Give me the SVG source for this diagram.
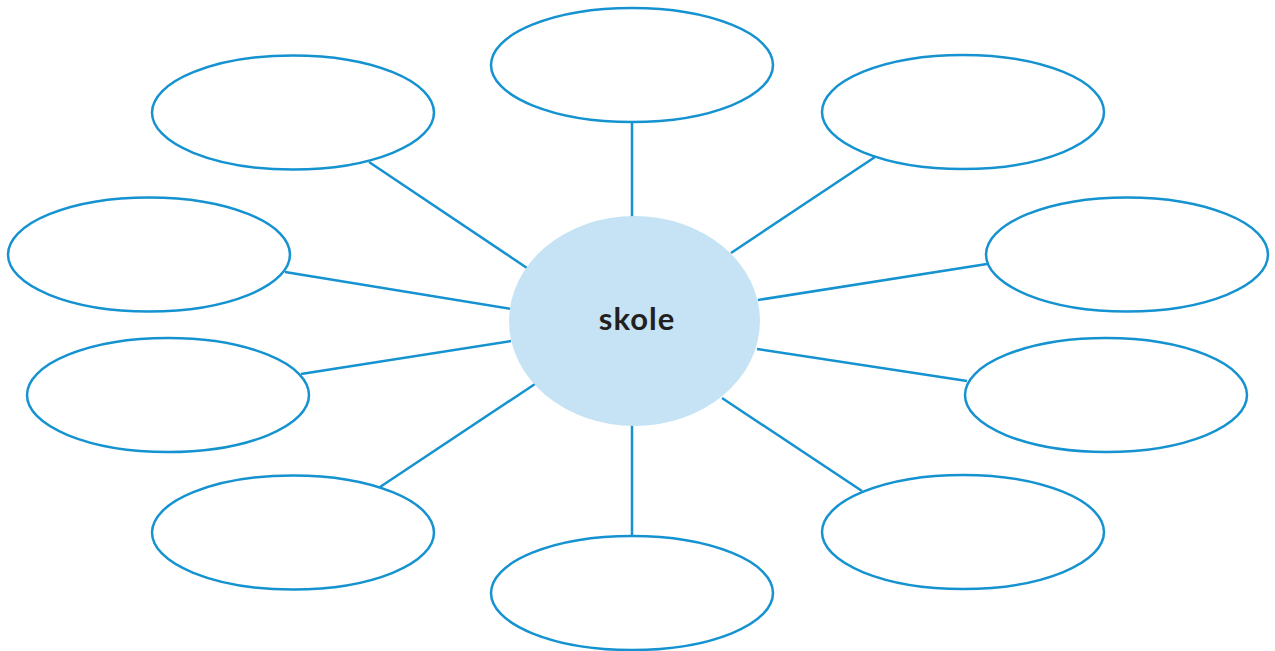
<svg xmlns="http://www.w3.org/2000/svg" width="1275" height="651" viewBox="0 0 1275 651">
<style>
.o{fill:#ffffff;stroke:#1592d0;stroke-width:2.5}
.c line{stroke:#1592d0;stroke-width:2.5}
.t{font-family:Lato,"Noto Sans",sans-serif;font-weight:bold;font-size:31px;letter-spacing:1px;fill:#231f20;text-anchor:middle}
</style>
<rect width="1275" height="651" fill="#ffffff"/>
<g id="connectors" class="c">
<line x1="632" y1="122" x2="632" y2="217"/>
<line x1="369" y1="162" x2="527" y2="268"/>
<line x1="875" y1="157" x2="731" y2="253"/>
<line x1="285" y1="272" x2="511" y2="309"/>
<line x1="987" y1="264" x2="758" y2="300"/>
<line x1="301" y1="374" x2="511" y2="341"/>
<line x1="967" y1="381" x2="757" y2="349"/>
<line x1="380" y1="487" x2="535" y2="384"/>
<line x1="862" y1="491" x2="722" y2="398"/>
<line x1="632" y1="425" x2="632" y2="536"/>
</g>
<g id="center"><ellipse cx="634.5" cy="321" rx="125.5" ry="105" fill="#c5e3f4"/><text class="t" x="637" y="330">skole</text></g>
<g id="n-top"><ellipse class="o" cx="632" cy="65" rx="141" ry="57"/></g>
<g id="n-tl"><ellipse class="o" cx="293" cy="112.5" rx="141" ry="57"/></g>
<g id="n-tr"><ellipse class="o" cx="963" cy="112" rx="141" ry="57"/></g>
<g id="n-lu"><ellipse class="o" cx="149" cy="254.5" rx="141" ry="57"/></g>
<g id="n-ru"><ellipse class="o" cx="1127" cy="254.5" rx="141" ry="57"/></g>
<g id="n-ll"><ellipse class="o" cx="168" cy="395" rx="141" ry="57"/></g>
<g id="n-rl"><ellipse class="o" cx="1106" cy="395" rx="141" ry="57"/></g>
<g id="n-bl"><ellipse class="o" cx="293" cy="532.5" rx="141" ry="57"/></g>
<g id="n-br"><ellipse class="o" cx="963" cy="532" rx="141" ry="57"/></g>
<g id="n-bottom"><ellipse class="o" cx="632" cy="593" rx="141" ry="57"/></g>
</svg>
